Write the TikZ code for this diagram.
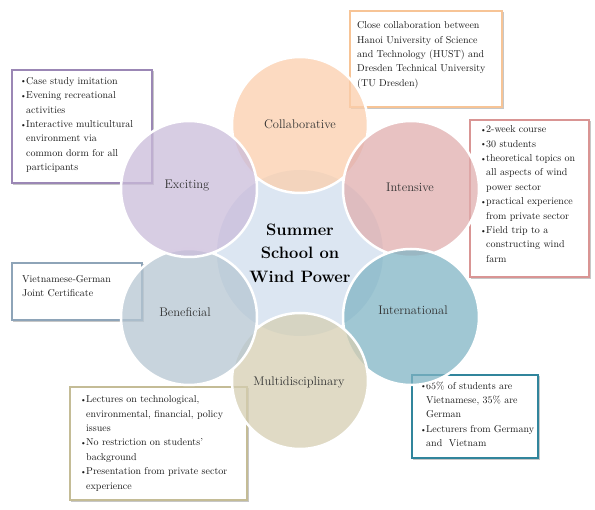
\documentclass[tikz,border=0pt]{standalone}
\usepackage{fontspec}
\definecolor{cCenter}{RGB}{220,230,242}
\definecolor{cCol}{RGB}{251,206,172}
\definecolor{cInt}{RGB}{224,174,174}
\definecolor{cIntl}{RGB}{128,180,196}
\definecolor{cMul}{RGB}{213,206,178}
\definecolor{cBen}{RGB}{182,198,210}
\definecolor{cExc}{RGB}{202,188,218}
\definecolor{bCol}{RGB}{247,196,150}
\definecolor{bExc}{RGB}{155,135,181}
\definecolor{bInt}{RGB}{217,149,148}
\definecolor{bBen}{RGB}{142,164,184}
\definecolor{bMul}{RGB}{196,188,150}
\definecolor{bIntl}{RGB}{49,133,156}
\definecolor{txtc}{RGB}{25,25,25}
\definecolor{lblc}{RGB}{50,50,50}
\newcommand{\bul}{\makebox[6pt][l]{\raisebox{0.3pt}{\footnotesize\textbullet}}}
\newcommand{\hin}{\makebox[6pt]{}}
\tikzset{
  txt/.style={anchor=north west, inner sep=0pt, align=left, font=\fontsize{10}{14.4}\selectfont, text=txtc},
  boxr/.style={line width=1.5pt, fill=white},
  shadowr/.style={draw=black!22, line width=1.5pt},
  petal/.style={draw=white, line width=2.5pt, fill opacity=0.75, minimum size=136pt, circle, inner sep=0pt},
  lbl/.style={font=\fontsize{12.5}{14}\selectfont, text=lblc, text opacity=1}
}
\begin{document}
\begin{tikzpicture}[x=1pt,y=-1pt]
\useasboundingbox (0,0) rectangle (595,510);
% boxes
\draw[shadowr] (351.5,12.5) rectangle (503.5,108.5);
\draw[boxr, draw=bCol] (350,11) rectangle (502,107);
\draw[shadowr] (13.5,71.5) rectangle (153.5,184.5);
\draw[boxr, draw=bExc] (12,70) rectangle (152,183);
\draw[shadowr] (471.5,121.5) rectangle (590.5,278.5);
\draw[boxr, draw=bInt] (470,120) rectangle (589,277);
\draw[shadowr] (13.5,264.5) rectangle (143.5,321.5);
\draw[boxr, draw=bBen] (12,263) rectangle (142,320);
\draw[shadowr] (71.5,388.5) rectangle (248.5,501.5);
\draw[boxr, draw=bMul] (70,387) rectangle (247,500);
\draw[shadowr] (413.5,376.5) rectangle (539.5,459.5);
\draw[boxr, draw=bIntl, line width=2pt] (412,375) rectangle (538,458);
\node[txt] (t1) at (357,21.5) {Close collaboration between\\Hanoi University of Science\\and Technology (HUST) and\\Dresden Technical University\\(TU Dresden)};
\node[txt] (t2) at (20,77) {\bul Case study imitation\\\bul Evening recreational\\\hin activities\\\bul Interactive multicultural\\\hin environment via\\\hin common dorm for all\\\hin participants};
\node[txt] (t3) at (480,125.5) {\bul 2-week course\\\bul 30 students\\\bul theoretical topics on\\\hin all aspects of wind\\\hin power sector\\\bul practical experience\\\hin from private sector\\\bul Field trip to a\\\hin constructing wind\\\hin farm};
\node[txt] (t4) at (22,275) {Vietnamese-German\\Joint Certificate};
\node[txt] (t5) at (80,395.5) {\bul Lectures on technological,\\\hin environmental, financial, policy\\\hin issues\\\bul No restriction on students'\\\hin background\\\bul Presentation from private sector\\\hin experience};
\node[txt] (t6) at (420,381.5) {\bul 65\% of students are\\\hin Vietnamese, 35\% are\\\hin German\\\bul Lecturers from Germany\\\hin and\ \ Vietnam};
% central circle
\node[circle, fill=cCenter, minimum size=166pt, inner sep=0pt] (c) at (300,253) {};
% petals
\node[petal, fill=cCol] (p1) at (300,125) {};
\node[petal, fill=cInt] (p2) at (411,189) {};
\node[petal, fill=cIntl] (p3) at (411,317) {};
\node[petal, fill=cMul] (p4) at (300,381) {};
\node[petal, fill=cBen] (p5) at (189,317) {};
\node[petal, fill=cExc] (p6) at (189,189) {};
% labels
\node[lbl] (l1) at (300,124) {Collaborative};
\node[lbl] (l2) at (410,187) {Intensive};
\node[lbl] (l3) at (413,310) {International};
\node[lbl] (l4) at (299,382) {Multidisciplinary};
\node[lbl] (l5) at (185,312) {Beneficial};
\node[lbl] (l6) at (187,186) {Exciting};
\node[align=center, font=\fontsize{16.5}{23.5}\bfseries\selectfont, text=black] (ct) at (300,253) {Summer\\School on\\Wind Power};
\end{tikzpicture}
\end{document}
